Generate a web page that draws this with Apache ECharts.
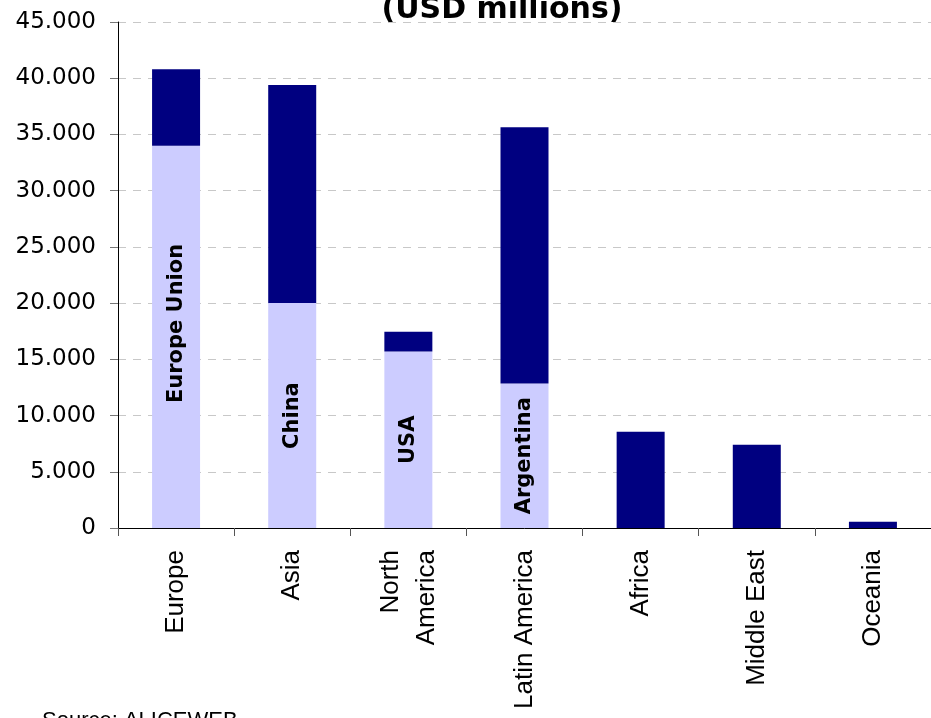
<!DOCTYPE html>
<html>
<head>
<meta charset="utf-8">
<script src="https://cdn.jsdelivr.net/npm/echarts@6/dist/echarts.min.js"></script>
<style>
html,body{margin:0;padding:0;background:#fff;}
#chart{width:931px;height:718px;}
</style>
</head>
<body>
<div id="chart"></div>
<script>
const categories = ['Europe', 'Asia', 'North\nAmerica', 'Latin America', 'Africa', 'Middle East', 'Oceania'];
const mainCountryNames = ['Europe Union', 'China', 'USA', 'Argentina', '', '', ''];
const mainCountryValues = [34000, 20000, 15700, 12850, 0, 0, 0];
const restOfRegionValues = [6800, 19400, 1750, 22800, 8550, 7400, 550];
const yTicks = [0, 5000, 10000, 15000, 20000, 25000, 30000, 35000, 40000, 45000];
const titleText = '(USD millions)';
const sourceText = 'Source: ALICEWEB';

function fmtThousands(v) {
  return String(v).replace(/\B(?=(\d{3})+(?!\d))/g, '.');
}

const chart = echarts.init(document.getElementById('chart'), null, {renderer: 'canvas'});
chart.setOption({
  animation: false,
  backgroundColor: '#ffffff',
  grid: {left: 118, right: -3, top: 22, bottom: 190, containLabel: false},
  xAxis: {
    type: 'category',
    data: categories,
    boundaryGap: true,
    axisLine: {lineStyle: {color: '#000', width: 1}},
    axisTick: {show: true, length: 8, lineStyle: {color: '#555'}},
    axisLabel: {
      rotate: 90, interval: 0, margin: 22,
      fontFamily: 'Liberation Sans', fontSize: 26, color: '#000', lineHeight: 36
    },
    splitLine: {show: false}
  },
  yAxis: {
    type: 'value',
    min: yTicks[0], max: yTicks[yTicks.length - 1], interval: yTicks[1] - yTicks[0],
    axisLine: {show: true, lineStyle: {color: '#000', width: 1}},
    axisTick: {show: true, length: 8, lineStyle: {color: '#777'}},
    axisLabel: {
      margin: 22, fontFamily: 'DejaVu Sans', fontSize: 23, color: '#000',
      formatter: v => fmtThousands(v)
    },
    splitLine: {show: true, lineStyle: {color: '#c8c8c8', type: [8, 7], width: 1}}
  },
  series: [
    {
      name: 'Main country',
      type: 'bar',
      stack: 'total',
      barWidth: 48,
      itemStyle: {color: '#CCCCFF'},
      data: mainCountryValues.map((v, i) => ({
        value: v,
        label: i === 0 ? {position: ['50%', '46.5%']} : {}
      })),
      label: {
        show: true,
        position: 'inside',
        rotate: 90,
        align: 'center',
        verticalAlign: 'middle',
        fontFamily: 'DejaVu Sans',
        fontWeight: 'bold',
        fontSize: 21,
        color: '#000',
        formatter: p => mainCountryNames[p.dataIndex]
      }
    },
    {
      name: 'Rest of region',
      type: 'bar',
      stack: 'total',
      barWidth: 48,
      itemStyle: {color: '#000080'},
      data: restOfRegionValues
    }
  ],
  graphic: [
    {
      type: 'text', x: 502, y: 25,
      style: {
        text: titleText, fontFamily: 'DejaVu Sans', fontWeight: 'bold', fontSize: 30,
        fill: '#000', align: 'center', verticalAlign: 'bottom'
      },
      z: 100
    },
    {
      type: 'text', x: 42, y: 710,
      style: {
        text: sourceText, fontFamily: 'Liberation Sans', fontSize: 22,
        fill: '#000', align: 'left', verticalAlign: 'top'
      }
    }
  ]
});
</script>
</body>
</html>
